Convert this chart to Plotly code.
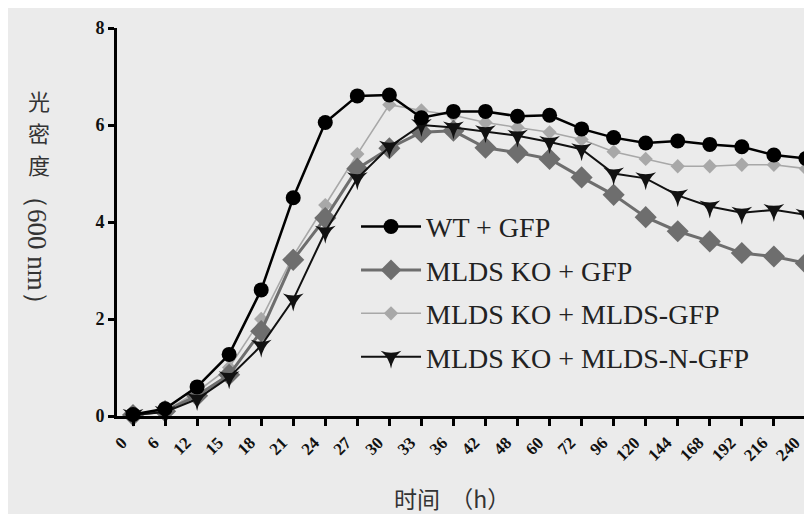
import plotly.graph_objects as go

hours = ["0", "6", "12", "15", "18", "21", "24", "27", "30", "33", "36",
         "42", "48", "60", "72", "96", "120", "144", "168", "192", "216", "240"]

wt_gfp = [0.03, 0.15, 0.60, 1.27, 2.60, 4.50, 6.05, 6.60, 6.62, 6.15, 6.28,
          6.28, 6.18, 6.20, 5.92, 5.74, 5.63, 5.67, 5.60, 5.55, 5.38, 5.31]
ko_gfp = [0.02, 0.10, 0.42, 0.85, 1.75, 3.22, 4.08, 5.10, 5.52, 5.85, 5.88,
          5.53, 5.43, 5.30, 4.92, 4.56, 4.10, 3.81, 3.60, 3.36, 3.29, 3.15]
ko_mlds_gfp = [0.03, 0.10, 0.50, 1.00, 2.00, 3.30, 4.35, 5.40, 6.42, 6.30, 6.20,
               6.05, 5.95, 5.85, 5.70, 5.45, 5.30, 5.15, 5.15, 5.18, 5.18, 5.10]
ko_mlds_n_gfp = [0.02, 0.08, 0.35, 0.80, 1.45, 2.40, 3.80, 4.90, 5.55, 6.00, 5.95,
                 5.87, 5.78, 5.65, 5.50, 5.00, 4.90, 4.55, 4.32, 4.19, 4.25, 4.15]

y_ticks = [0, 2, 4, 6, 8]

series_names = ["WT + GFP", "MLDS KO + GFP", "MLDS KO + MLDS-GFP", "MLDS KO + MLDS-N-GFP"]
y_title_cjk = ["光", "密", "度"]
y_title_unit = "（600 nm）"
x_title = "时间  （h）"

BG = "#ebebeb"
SERIF = "Liberation Serif"
CJK = "Noto Sans CJK SC"

fig = go.Figure()

fig.add_trace(go.Scatter(
    x=hours, y=ko_mlds_gfp, name=series_names[2], mode="lines+markers",
    line=dict(color="#a8a8a8", width=1.6),
    marker=dict(symbol="diamond", size=11, color="#a8a8a8"),
    legendrank=3, legendgroup="c", cliponaxis=False))
fig.add_trace(go.Scatter(
    x=hours, y=ko_gfp, name=series_names[1], mode="lines+markers",
    line=dict(color="#6e6e6e", width=3),
    marker=dict(symbol="diamond", size=17, color="#6e6e6e"),
    legendrank=2, legendgroup="b", cliponaxis=False))
fig.add_trace(go.Scatter(
    x=hours, y=ko_mlds_n_gfp, name=series_names[3], mode="lines+markers",
    line=dict(color="#111111", width=2),
    marker=dict(symbol="star-triangle-down", size=15, color="#111111"),
    legendrank=4, legendgroup="d", cliponaxis=False))
fig.add_trace(go.Scatter(
    x=hours, y=wt_gfp, name=series_names[0], mode="lines+markers",
    line=dict(color="#000000", width=2.5),
    marker=dict(symbol="circle", size=15, color="#000000"),
    legendrank=1, legendgroup="a", cliponaxis=False))

annotations = []
for i, ch in enumerate(y_title_cjk):
    annotations.append(dict(
        text=ch, xref="paper", yref="paper",
        x=(31 - 109) / 703, y=(408 - (92 + 32 * i)) / 388, showarrow=False,
        xanchor="center", yanchor="middle",
        font=dict(family=CJK, size=22, color="#333333")))
annotations.append(dict(
    text=y_title_unit, xref="paper", yref="paper", textangle=90,
    x=(29 - 109) / 703, y=(408 - 242) / 388, showarrow=False,
    xanchor="center", yanchor="middle",
    font=dict(family=SERIF, size=27, color="#333333")))
annotations.append(dict(
    text=x_title, xref="paper", yref="paper",
    x=(444 - 109) / 703, y=(408 - 490) / 388, showarrow=False,
    xanchor="center", yanchor="middle",
    font=dict(family=CJK, size=23, color="#333333")))

fig.update_layout(
    width=812, height=514,
    margin=dict(l=109, r=0, t=20, b=106),
    paper_bgcolor=BG, plot_bgcolor=BG,
    font=dict(family=SERIF, color="#111111"),
    showlegend=True,
    legend=dict(
        x=0.34, y=0.552, xanchor="left", yanchor="top",
        bgcolor="rgba(0,0,0,0)", borderwidth=0,
        font=dict(family=SERIF, size=28, color="#222222"),
        itemwidth=60, tracegroupgap=4,
    ),
    xaxis=dict(
        type="category", range=[-0.5, 21.44],
        showgrid=False, zeroline=False,
        showline=True, linecolor="#000000", linewidth=3,
        ticks="outside", ticklen=7, tickwidth=2.5, tickcolor="#000000",
        tickangle=-45, ticklabelshift=-11,
        tickfont=dict(family=SERIF, size=17, color="#111111", weight="bold"),
    ),
    yaxis=dict(
        range=[0, 8], tickvals=y_ticks, ticktext=[str(v) for v in y_ticks],
        showgrid=False, zeroline=False,
        showline=True, linecolor="#000000", linewidth=3,
        ticks="outside", ticklen=6, tickwidth=2.5, tickcolor="#000000",
        tickfont=dict(family=SERIF, size=18, color="#111111", weight="bold"),
    ),
    annotations=annotations,
)

fig.write_html("out.html")
